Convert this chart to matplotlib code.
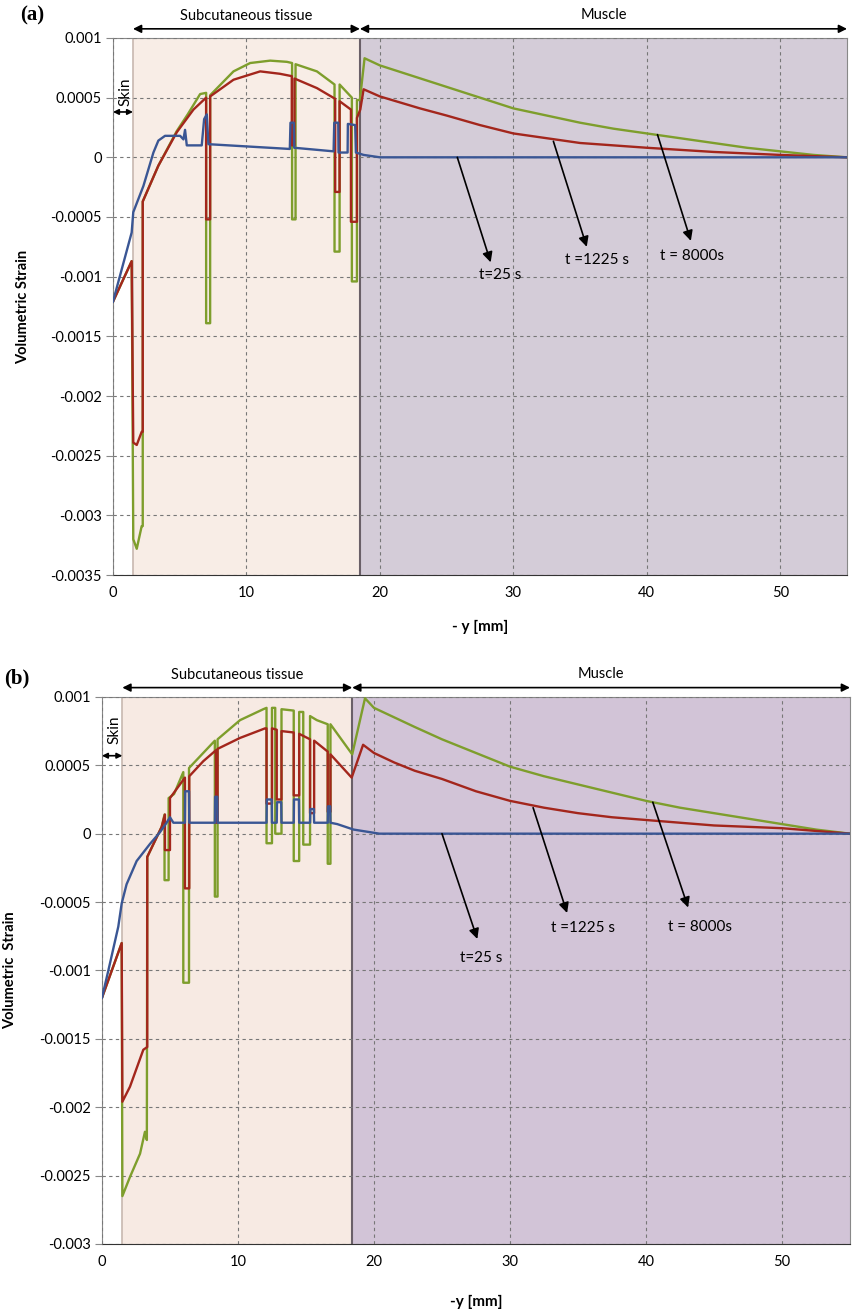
import numpy as np
import matplotlib.pyplot as plt

plt.rcParams['font.family'] = ['Lato', 'DejaVu Sans']

# ---- panel (a) data: -y [mm] vs volumetric strain ----
a_x_25 = [0, 1.40, 1.52, 2.28, 3.03, 3.40, 3.9, 5.03, 5.28, 5.40, 5.53, 6.65, 6.83, 7.03, 7.15,
          13.25, 13.30, 13.55, 13.58, 16.53, 16.58, 16.88, 16.9, 17.58, 17.6, 18.15, 18.2, 18.78, 20.0, 30, 55]
a_y_25 = [-0.00121, -0.00063, -0.00046, -0.00024, 0.00004, 0.00014, 0.00018, 0.00018, 0.00015, 0.00023,
          0.0001, 0.0001, 0.00032, 0.00036, 0.00011, 0.00007, 0.00029, 0.00029, 0.00008, 0.00005, 0.00029,
          0.00029, 0.00004, 0.00004, 0.00028, 0.00027, 0.00004, 0.00002, 0.0, 0.0, 0.0]

a_x_1225 = [0, 1.40, 1.52, 1.78, 2.15, 2.23, 2.23, 3.4, 4.78, 6.03, 6.98, 6.98, 7.28, 7.28, 9.03, 11.03,
            12.5, 13.4, 13.4, 13.6, 13.6, 15.28, 16.65, 16.65, 16.98, 16.98, 17.83, 17.83, 18.28, 18.28,
            18.53, 18.78, 20, 21.5, 23, 25, 27.5, 30, 32.5, 35, 37.5, 40, 45, 50, 55]
a_y_1225 = [-0.00121, -0.00087, -0.00239, -0.00241, -0.0023, -0.0023, -0.00037, -0.00007, 0.00021, 0.0004,
            0.0005, -0.00052, -0.00052, 0.00051, 0.00065, 0.00072, 0.0007, 0.00068, 0.0001, 0.0001, 0.00066,
            0.00058, 0.00049, -0.00029, -0.00029, 0.00047, 0.0004, -0.00054, -0.00054, 0.00033, 0.0004,
            0.00057, 0.00051, 0.00046, 0.00041, 0.00035, 0.00027, 0.0002, 0.00016, 0.00012, 0.0001, 0.00008,
            0.000045, 0.00002, 0.0]

a_x_8000 = [0, 1.40, 1.52, 1.78, 2.15, 2.23, 2.23, 3.4, 4.78, 5.6, 6.53, 6.98, 6.98, 7.28, 7.28, 9.03,
            10.28, 11.78, 13.03, 13.42, 13.42, 13.68, 13.68, 15.28, 16.6, 16.6, 16.98, 16.98, 17.9, 17.9,
            18.28, 18.28, 18.5, 18.85, 20, 22.5, 25, 27.5, 30, 32.5, 35, 37.5, 40, 42.5, 45, 47.5, 50, 52.5, 55]
a_y_8000 = [-0.00121, -0.00087, -0.0032, -0.00328, -0.00309, -0.00309, -0.00037, -0.00007, 0.00022, 0.00036,
            0.00053, 0.00054, -0.00139, -0.00139, 0.00052, 0.00072, 0.00079, 0.00081, 0.0008, 0.00079,
            -0.00052, -0.00052, 0.00078, 0.00072, 0.00061, -0.00079, -0.00079, 0.00061, 0.0005, -0.00104,
            -0.00104, 0.00048, 0.00048, 0.00083, 0.00077, 0.00068, 0.00059, 0.0005, 0.00041, 0.00035, 0.00029,
            0.00024, 0.0002, 0.00016, 0.00012, 0.00008, 0.00005, 0.00002, 0.0]

# ---- panel (b) data ----
b_x_25 = [0, 0.47, 1.2, 1.45, 1.81, 2.55, 3.53, 4.26, 4.75, 5.0, 5.25, 6.1, 6.12, 6.4, 6.42, 8.3, 8.32,
          8.48, 8.5, 12.1, 12.12, 12.48, 12.5, 12.85, 12.87, 13.18, 13.2, 14.1, 14.12, 14.48, 14.5, 15.3,
          15.32, 15.58, 15.6, 16.6, 16.62, 16.78, 16.8, 17.3, 18.5, 20.4, 30, 55]
b_y_25 = [-0.0012, -0.001, -0.00068, -0.00051, -0.00037, -0.0002, -0.000075, 0.00001, 0.00008, 0.00012,
          0.00008, 0.00008, 0.00031, 0.00031, 0.00008, 0.00008, 0.00027, 0.00027, 0.00008, 0.00008, 0.00025,
          0.00025, 0.00008, 0.00008, 0.00023, 0.00023, 0.00008, 0.00008, 0.00025, 0.00025, 0.00008, 0.00008,
          0.00018, 0.00018, 0.00008, 0.00008, 0.0002, 0.0002, 0.00008, 0.00007, 0.00003, 0.0, 0.0, 0.0]

b_x_1225 = [0, 1.45, 1.5, 2.06, 3.04, 3.33, 3.33, 4.39, 4.63, 4.63, 5.0, 5.0, 6.1, 6.1, 6.42, 6.42, 7.45,
            8.38, 8.38, 8.5, 8.5, 10.15, 11.99, 12.1, 12.1, 12.5, 12.5, 12.85, 12.85, 13.2, 13.2, 14.1, 14.1,
            14.5, 14.5, 15.3, 15.3, 15.6, 15.6, 16.6, 16.6, 16.8, 16.8, 18.36, 19.2, 20, 21.5, 23, 25, 27.5,
            30, 32.5, 35, 37.5, 40, 45, 50, 55]
b_y_1225 = [-0.0012, -0.0008, -0.00196, -0.00185, -0.00158, -0.00156, -0.00017, 0.00005, 0.00014, -0.00012,
            -0.00012, 0.00026, 0.00041, -0.0004, -0.0004, 0.00042, 0.00053, 0.00061, 0.00008, 0.00008,
            0.00062, 0.0007, 0.00077, 0.00077, 0.00022, 0.00022, 0.00077, 0.00076, 0.00025, 0.00025, 0.00075,
            0.00074, 0.00028, 0.00028, 0.00073, 0.00069, 0.00015, 0.00015, 0.00068, 0.0006, 0.00016, 0.00016,
            0.00058, 0.00041, 0.00065, 0.00059, 0.00052, 0.00046, 0.0004, 0.00031, 0.00024, 0.00019, 0.00015,
            0.00012, 0.0001, 0.00006, 0.00004, 0.0]

b_x_8000 = [0, 1.45, 1.5, 2.06, 2.8, 3.16, 3.3, 3.33, 4.39, 4.6, 4.6, 4.9, 4.9, 5.3, 5.98, 5.98, 6.4, 6.4,
            8.3, 8.3, 8.5, 8.5, 10.15, 11.86, 12.1, 12.1, 12.5, 12.5, 12.74, 12.74, 13.2, 13.2, 14.1, 14.1,
            14.5, 14.5, 14.8, 14.8, 15.3, 15.3, 15.8, 16.6, 16.6, 16.8, 16.8, 18.4, 19.34, 20, 21.5, 23, 25,
            27.5, 30, 32.5, 35, 37.5, 40, 42.5, 45, 47.5, 50, 52.5, 55]
b_y_8000 = [-0.0012, -0.0008, -0.00265, -0.00251, -0.00234, -0.00218, -0.00224, -0.00017, 0.00005, 0.00014,
            -0.00034, -0.00034, 0.00026, 0.00029, 0.00045, -0.00109, -0.00109, 0.00048, 0.00068, -0.00046,
            -0.00046, 0.00069, 0.00083, 0.00091, 0.00092, -0.00007, -0.00007, 0.00092, 0.00092, 0.0, 0.0,
            0.00091, 0.0009, -0.0002, -0.0002, 0.00089, 0.00089, -0.00008, -0.00008, 0.00086, 0.00083, 0.0008,
            -0.00022, -0.00022, 0.0008, 0.00058, 0.00099, 0.00092, 0.00085, 0.00078, 0.00069, 0.00059, 0.00049,
            0.00042, 0.00036, 0.0003, 0.00024, 0.00019, 0.00015, 0.00011, 0.00007, 0.00003, 0.0]

labels = ['t=25 s', 't =1225 s', 't = 8000s']
colors = ['#3A5694', '#A3261C', '#7E9E2C']
z_order = [5, 4, 3]   # blue on top, green at the bottom
x_ticks = [0, 10, 20, 30, 40, 50]
a_y_ticks = [0.001, 0.0005, 0, -0.0005, -0.001, -0.0015, -0.002, -0.0025, -0.003, -0.0035]
b_y_ticks = [0.001, 0.0005, 0, -0.0005, -0.001, -0.0015, -0.002, -0.0025, -0.003]

skin_end = 1.5


def draw_panel(ax, curves, yticks, ylim, sub_col, mus_col, skin_y, skin_txt_y,
               arrows, texts, ylabel, xlabel, xlab_y, sub_end):
    ax.axvspan(skin_end, sub_end, color=sub_col, zorder=0)
    ax.axvspan(sub_end, 55, color=mus_col, zorder=0)
    ax.axvline(skin_end, color='#c8b8b0', lw=1.2, zorder=1)
    ax.axvline(sub_end, color='#6a6068', lw=1.5, zorder=1)
    for (cx, cy), c, z in zip(curves, colors, z_order):
        ax.plot(cx, cy, color=c, lw=1.7, zorder=z)
    ax.set_xlim(0, 55)
    ax.set_ylim(*ylim)
    ax.set_xticks(x_ticks)
    ax.set_yticks(yticks)
    ax.set_yticklabels(['%g' % v for v in yticks])
    ax.grid(True, ls=(0, (3, 3)), color='#777777', lw=0.8, zorder=2)
    ax.set_axisbelow(False)
    for s in ax.spines.values():
        s.set_color('#888888')
    ax.spines['bottom'].set_color('#333333')
    ax.tick_params(axis='y', length=5, color='#888888', labelsize=10.5, pad=3)
    ax.tick_params(axis='x', length=0, labelsize=10.5, pad=8)
    ax.set_ylabel(ylabel, fontweight='bold', fontsize=10.5)
    ax.yaxis.set_label_coords(-0.113, 0.5)
    ax.set_xlabel(xlabel, fontweight='bold', fontsize=11)
    ax.xaxis.set_label_coords(0.5, xlab_y)

    # region arrows above the plot
    tr = ax.get_xaxis_transform()
    ap = dict(arrowstyle='<|-|>', color='black', lw=1.2, mutation_scale=12, shrinkA=0, shrinkB=0)
    ax.annotate('', xy=(skin_end, 1.017), xytext=(sub_end, 1.017), xycoords=tr, textcoords=tr, arrowprops=ap)
    ax.annotate('', xy=(sub_end, 1.017), xytext=(55, 1.017), xycoords=tr, textcoords=tr, arrowprops=ap)
    ax.text((skin_end + sub_end) / 2, 1.04, 'Subcutaneous tissue', transform=tr, ha='center', va='center', fontsize=10.5)
    ax.text((sub_end + 55) / 2, 1.042, 'Muscle', transform=tr, ha='center', va='center', fontsize=10.5)

    # skin marker
    ap2 = dict(arrowstyle='<|-|>', color='black', lw=1.2, mutation_scale=8, shrinkA=0, shrinkB=0)
    ax.annotate('', xy=(0, skin_y), xytext=(skin_end, skin_y), arrowprops=ap2, zorder=6)
    ax.text(0.9, skin_txt_y, 'Skin', rotation=90, ha='center', va='center', fontsize=11)

    # curve labels with arrows
    for (p0, p1), (tx, ty), lab in zip(arrows, texts, labels):
        ax.annotate('', xy=p1, xytext=p0,
                    arrowprops=dict(arrowstyle='-|>', color='black', lw=1.2, mutation_scale=15,
                                    shrinkA=0, shrinkB=0), zorder=6)
        ax.text(tx, ty, lab, ha='center', va='center', fontsize=11)


fig = plt.figure(figsize=(8.54, 13.09), dpi=100)

ax1 = fig.add_axes([0.1323, 0.5607, 0.8595, 0.4103])
draw_panel(ax1, [(a_x_25, a_y_25), (a_x_1225, a_y_1225), (a_x_8000, a_y_8000)],
           a_y_ticks, (-0.0035, 0.001), '#F8EDE6', '#D4CCD8', 0.00038, 0.00055,
           [((25.8, 0.0), (28.3, -0.00088)), ((33.0, 0.000134), (35.5, -0.00075)),
            ((40.8, 0.00019), (43.3, -0.0007))],
           [(29.0, -0.00099), (36.3, -0.00086), (43.4, -0.00083)],
           'Volumetric Strain', '- y [mm]', -0.084, 18.5)

ax2 = fig.add_axes([0.1194, 0.0497, 0.8759, 0.4179])
draw_panel(ax2, [(b_x_25, b_y_25), (b_x_1225, b_y_1225), (b_x_8000, b_y_8000)],
           b_y_ticks, (-0.003, 0.001), '#F7EAE3', '#D2C4D7', 0.00057, 0.00076,
           [((25.0, 0.0), (27.6, -0.00077)), ((31.7, 0.00019), (34.2, -0.00058)),
            ((40.5, 0.00023), (43.1, -0.00054))],
           [(27.9, -0.00091), (35.4, -0.00069), (44.0, -0.00068)],
           'Volumetric  Strain', '-y [mm]', -0.093, 18.4)

fig.text(0.023, 0.988, '(a)', fontsize=15, fontweight='bold', family='Liberation Serif', ha='left', va='center')
fig.text(0.005, 0.482, '(b)', fontsize=15, fontweight='bold', family='Liberation Serif', ha='left', va='center')

fig.savefig('out.png', dpi=100)
